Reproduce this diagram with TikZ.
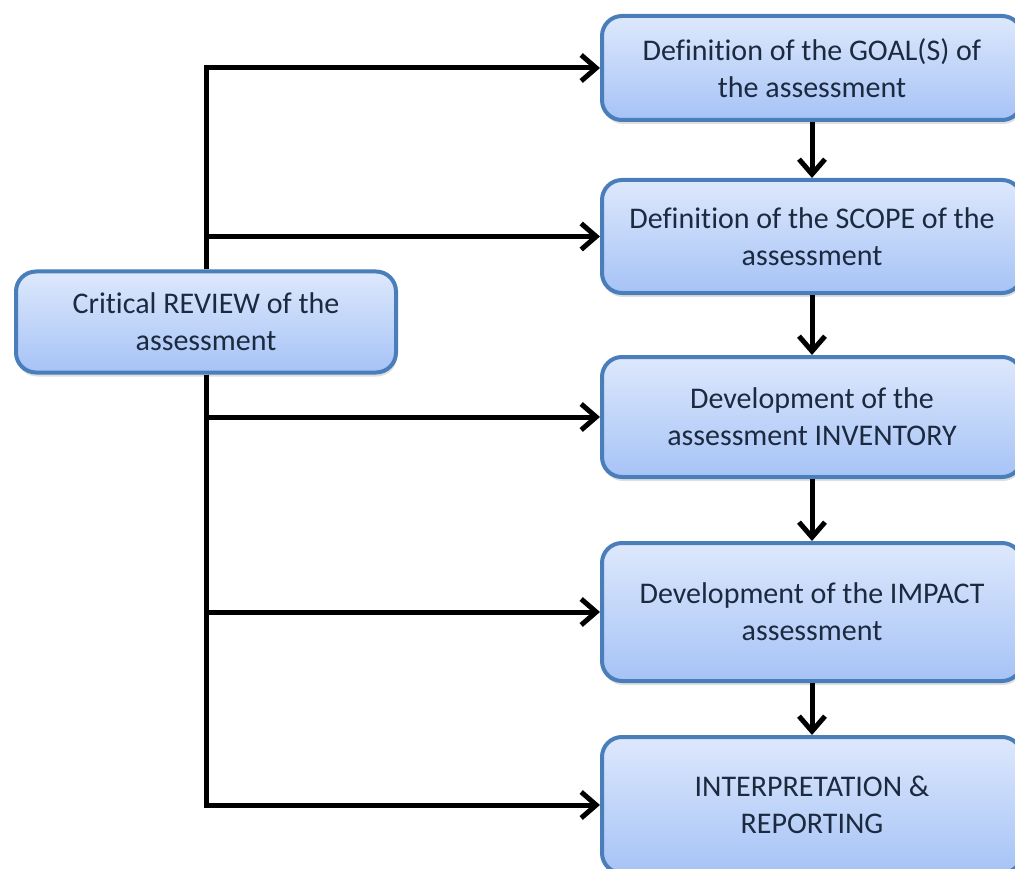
\documentclass[tikz,border=0pt]{standalone}
\usepackage{fontspec}
\setmainfont[Ligatures=NoCommon]{Carlito}
\usetikzlibrary{positioning, arrows.meta, shadows}

\definecolor{boxline}{HTML}{4A7EBB}
\definecolor{boxtop}{HTML}{DDE8FC}
\definecolor{boxbottom}{HTML}{A6C3F6}
\definecolor{boxtext}{HTML}{1C2A40}

\tikzset{
    stagebox/.style={rounded corners=20pt, draw=boxline, line width=4pt,
        top color=boxtop, bottom color=boxbottom,
        drop shadow={shadow xshift=1pt, shadow yshift=-4pt, opacity=0.25},
        text=boxtext, align=center, minimum width=420pt,
        font=\fontsize{30}{37}\selectfont},
    flow/.style={line width=5pt, -{Straight Barb[length=15pt, width=26pt]}}
}

\begin{document}
\begin{tikzpicture}[x=1pt, y=-1pt]
        \useasboundingbox (0,0) rectangle (1015,869);

        % Stages of the assessment
        \node (goal) [stagebox, minimum height=104pt] at (812,68)
            {Definition of the GOAL(S) of\\the assessment};
        \node (scope) [stagebox, minimum height=113pt, below=56pt of goal]
            {Definition of the SCOPE of the\\assessment};
        \node (inventory) [stagebox, minimum height=120pt, below=60pt of scope]
            {Development of the\\assessment INVENTORY};
        \node (impact) [stagebox, minimum height=138pt, below=62pt of inventory]
            {Development of the IMPACT\\assessment};
        \node (interp) [stagebox, minimum height=136pt, below=52pt of impact]
            {INTERPRETATION \&\\REPORTING};

        % Review box
        \node (review) [stagebox, minimum width=380pt, minimum height=101pt] at (206,322)
            {Critical REVIEW of the\\assessment};

        % Feedback from the review
        \draw[flow] (review) |- (goal);
        \draw[flow] (review) |- (scope);
        \draw[flow] (review) |- (inventory);
        \draw[flow] (review) |- (impact);
        \draw[flow] (review) |- (interp);

        % Flow between stages
        \draw[flow] (goal) -- (scope);
        \draw[flow] (scope) -- (inventory);
        \draw[flow] (inventory) -- (impact);
        \draw[flow] (impact) -- (interp);
    \end{tikzpicture}
\end{document}
